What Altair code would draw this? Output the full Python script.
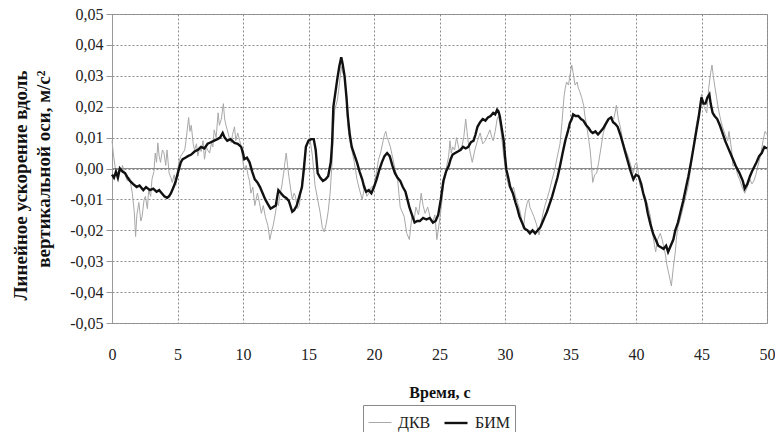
import altair as alt
import pandas as pd

# ---- data ----
series_names = ["ДКВ", "БИМ"]

t_dkv = [0.0, 0.1, 0.25, 0.4, 0.55, 0.7, 0.8, 1.0, 1.17, 1.35, 1.55, 1.7, 1.8, 1.9, 2.05, 2.2, 2.3, 2.45,
         2.55, 2.7, 2.8, 2.95, 3.05, 3.2, 3.3, 3.4, 3.5, 3.6, 3.7, 3.85, 3.97, 4.1, 4.2, 4.36, 4.5, 4.6,
         4.75, 4.87, 5.0, 5.1, 5.25, 5.4, 5.55, 5.65, 5.85, 5.95, 6.05, 6.2, 6.3, 6.45, 6.55, 6.7, 6.8,
         6.95, 7.06, 7.2, 7.3, 7.45, 7.6, 7.7, 7.8, 7.95, 8.1, 8.2, 8.35, 8.5, 8.6, 8.7, 8.8, 8.95, 9.1,
         9.2, 9.35, 9.45, 9.6, 9.75, 9.86, 10.0, 10.1, 10.25, 10.4, 10.5, 10.6, 10.75, 10.9, 11.0, 11.1,
         11.25, 11.4, 11.55, 11.7, 11.9, 12.05, 12.2, 12.3, 12.45, 12.6, 12.7, 12.8, 12.95, 13.1, 13.2,
         13.3, 13.4, 13.5, 13.65, 13.76, 13.9, 14.0, 14.15, 14.3, 14.5, 14.65, 14.8, 14.9, 15.0, 15.1,
         15.3, 15.5, 15.7, 15.9, 16.05, 16.2, 16.35, 16.5, 16.65, 16.8, 16.9, 17.0, 17.2, 17.35, 17.5,
         17.6, 17.75, 17.9, 18.0, 18.15, 18.3, 18.5, 18.7, 18.9, 19.1, 19.3, 19.45, 19.6, 19.8, 20.0,
         20.2, 20.35, 20.5, 20.7, 20.8, 20.9, 21.0, 21.1, 21.25, 21.4, 21.6, 21.8, 21.9, 22.0, 22.15,
         22.3, 22.5, 22.7, 22.8, 22.9, 23.05, 23.2, 23.4, 23.6, 23.75, 23.9, 24.1, 24.3, 24.5, 24.65,
         24.8, 24.9, 25.0, 25.15, 25.3, 25.45, 25.55, 25.7, 25.8, 25.9, 26.0, 26.15, 26.3, 26.5, 26.7,
         26.85, 27.0, 27.1, 27.2, 27.35, 27.5, 27.7, 27.9, 28.1, 28.3, 28.5, 28.7, 28.85, 29.0, 29.1,
         29.25, 29.4, 29.5, 29.6, 29.75, 29.9, 30.1, 30.3, 30.5, 30.65, 30.8, 30.95, 31.1, 31.25, 31.4,
         31.55, 31.7, 31.8, 31.9, 32.05, 32.2, 32.4, 32.6, 32.75, 32.9, 33.05, 33.2, 33.4, 33.6, 33.8,
         34.0, 34.2, 34.35, 34.5, 34.6, 34.7, 34.85, 34.95, 35.1, 35.2, 35.35, 35.5, 35.6, 35.7, 35.85,
         36.0, 36.1, 36.25, 36.4, 36.5, 36.6, 36.7, 36.85, 37.0, 37.15, 37.3, 37.5, 37.7, 37.9, 38.1,
         38.3, 38.4, 38.5, 38.65, 38.8, 39.0, 39.2, 39.4, 39.6, 39.8, 39.9, 40.05, 40.2, 40.3, 40.5,
         40.7, 40.9, 41.1, 41.3, 41.5, 41.65, 41.85, 42.0, 42.1, 42.25, 42.35, 42.5, 42.7, 42.85, 43.0,
         43.1, 43.2, 43.4, 43.6, 43.8, 44.0, 44.2, 44.4, 44.6, 44.8, 45.0, 45.2, 45.4, 45.55, 45.7,
         45.8, 45.9, 46.0, 46.15, 46.3, 46.45, 46.6, 46.8, 47.0, 47.1, 47.3, 47.4, 47.6, 47.75, 47.9,
         48.1, 48.3, 48.5, 48.7, 48.85, 49.0, 49.15, 49.3, 49.5, 49.7, 49.85, 50.0]
v_dkv = [0.009, 0.005, 0.000, -0.002, 0.000, -0.001, 0.001, -0.002, -0.004, -0.003, -0.008, -0.014, -0.022,
         -0.015, -0.011, -0.017, -0.0155, -0.010, -0.009, -0.013, -0.007, -0.009, -0.0035, -0.001, 0.005,
         0.002, 0.0083, 0.004, 0.002, 0.006, 0.005, 0.001, 0.006, -0.0015, -0.003, -0.0045, -0.002,
         -0.0055, -0.001, 0.002, 0.004, 0.005, 0.006, 0.009, 0.0165, 0.012, 0.014, 0.008, 0.006, 0.008,
         0.004, 0.007, 0.0055, 0.009, 0.003, 0.007, 0.006, 0.005, 0.0083, 0.007, 0.0125, 0.010, 0.018,
         0.014, 0.016, 0.021, 0.016, 0.014, 0.0125, 0.010, 0.0083, 0.011, 0.0135, 0.009, 0.0115, 0.009,
         0.007, 0.002, -0.0003, 0.001, -0.0025, -0.004, -0.008, -0.006, -0.012, -0.010, -0.008, -0.011,
         -0.0145, -0.012, -0.0155, -0.0185, -0.023, -0.020, -0.0185, -0.015, -0.011, -0.012, -0.009,
         -0.006, -0.0015, 0.002, 0.005, 0.001, -0.0025, -0.007, -0.010, -0.008, -0.009, -0.013, -0.012,
         -0.0045, 0.001, 0.006, 0.008, 0.009, 0.010, 0.004, -0.0055, -0.010, -0.0145, -0.019, -0.0205,
         -0.018, -0.014, -0.008, 0.002, 0.012, 0.019, 0.022, 0.027, 0.033, 0.031, 0.030, 0.022, 0.0135,
         0.009, 0.006, 0.002, -0.0035, -0.007, -0.010, -0.0055, -0.009, -0.008, -0.006, -0.0055, -0.001,
         0.003, 0.005, 0.009, 0.011, 0.012, 0.010, 0.009, 0.007, 0.004, 0.000, -0.0035, -0.008, -0.0125,
         -0.014, -0.0155, -0.021, -0.023, -0.019, -0.0155, -0.017, -0.0125, -0.015, -0.008, -0.012,
         -0.0145, -0.0125, -0.016, -0.017, -0.015, -0.023, -0.020, -0.017, -0.012, -0.0055, -0.002,
         0.0008, 0.004, 0.009, 0.005, 0.007, 0.006, 0.010, 0.006, 0.007, 0.010, 0.016, 0.012, 0.0083,
         0.005, 0.002, 0.006, 0.009, 0.0115, 0.008, 0.009, 0.011, 0.0125, 0.010, 0.009, 0.012, 0.016,
         0.017, 0.015, 0.010, 0.004, -0.0025, -0.006, -0.007, -0.006, -0.009, -0.011, -0.013, -0.016,
         -0.0195, -0.014, -0.011, -0.010, -0.0125, -0.014, -0.0155, -0.018, -0.0215, -0.018, -0.0145,
         -0.012, -0.010, -0.007, -0.0035, -0.0003, 0.004, 0.008, 0.015, 0.023, 0.026, 0.028, 0.027, 0.030,
         0.0335, 0.031, 0.027, 0.028, 0.026, 0.025, 0.023, 0.0205, 0.017, 0.0135, 0.009, 0.006, 0.001,
         -0.0045, -0.002, -0.0015, 0.002, 0.006, 0.0115, 0.014, 0.016, 0.017, 0.016, 0.018, 0.0205, 0.016,
         0.0135, 0.009, 0.006, 0.004, 0.001, -0.0015, 0.001, 0.002, -0.002, -0.0055, -0.007, -0.009,
         -0.012, -0.0155, -0.022, -0.027, -0.023, -0.021, -0.023, -0.025, -0.028, -0.031, -0.034, -0.038,
         -0.032, -0.027, -0.022, -0.019, -0.016, -0.0125, -0.009, -0.0055, 0.001, 0.008, 0.014, 0.0185,
         0.024, 0.020, 0.018, 0.026, 0.031, 0.0335, 0.030, 0.027, 0.023, 0.019, 0.016, 0.0135, 0.011,
         0.009, 0.012, 0.006, 0.0008, 0.001, -0.002, -0.0035, -0.006, -0.008, -0.006, -0.0035, -0.005,
         -0.004, -0.002, 0.0008, 0.004, 0.009, 0.012, 0.011]

t_bim = [0.0, 0.15, 0.3, 0.45, 0.6, 0.8, 1.0, 1.2, 1.37, 1.6, 1.88, 2.1, 2.39, 2.6, 2.9, 3.15, 3.4, 3.6,
         3.8, 4.0, 4.2, 4.35, 4.5, 4.7, 4.87, 5.1, 5.25, 5.4, 5.6, 5.8, 6.05, 6.3, 6.55, 6.8, 7.05, 7.3,
         7.55, 7.8, 8.05, 8.25, 8.45, 8.6, 8.8, 9.05, 9.35, 9.6, 9.86, 10.0, 10.1, 10.3, 10.5, 10.7,
         10.9, 11.1, 11.3, 11.5, 11.7, 11.9, 12.1, 12.3, 12.5, 12.7, 12.9, 13.1, 13.3, 13.5, 13.76, 13.9,
         14.1, 14.3, 14.5, 14.65, 14.8, 15.0, 15.2, 15.4, 15.55, 15.7, 15.9, 16.1, 16.3, 16.5, 16.7,
         16.8, 16.9, 17.2, 17.35, 17.5, 17.6, 17.75, 17.9, 18.0, 18.15, 18.3, 18.5, 18.7, 18.9, 19.1,
         19.25, 19.4, 19.6, 19.8, 20.0, 20.2, 20.4, 20.6, 20.8, 21.0, 21.2, 21.4, 21.6, 21.8, 22.0,
         22.2, 22.4, 22.55, 22.7, 22.9, 23.1, 23.3, 23.5, 23.75, 24.0, 24.25, 24.5, 24.7, 24.9, 25.1,
         25.3, 25.5, 25.7, 25.85, 26.0, 26.2, 26.4, 26.6, 26.8, 27.0, 27.2, 27.4, 27.6, 27.75, 27.9,
         28.1, 28.3, 28.5, 28.7, 28.9, 29.1, 29.25, 29.4, 29.5, 29.6, 29.75, 29.9, 30.0, 30.1, 30.25,
         30.4, 30.6, 30.8, 30.95, 31.1, 31.3, 31.5, 31.7, 31.9, 32.1, 32.3, 32.5, 32.7, 32.9, 33.05,
         33.2, 33.4, 33.6, 33.8, 34.0, 34.2, 34.4, 34.6, 34.8, 34.95, 35.1, 35.2, 35.4, 35.6, 35.8,
         35.98, 36.2, 36.4, 36.55, 36.7, 36.9, 37.1, 37.3, 37.5, 37.7, 37.9, 38.1, 38.25, 38.4, 38.6,
         38.8, 39.0, 39.2, 39.4, 39.6, 39.8, 40.0, 40.2, 40.4, 40.55, 40.75, 40.9, 41.1, 41.3, 41.5,
         41.7, 41.9, 42.1, 42.3, 42.45, 42.65, 42.85, 43.0, 43.2, 43.4, 43.6, 43.8, 44.0, 44.2, 44.4,
         44.6, 44.8, 45.0, 45.15, 45.3, 45.45, 45.6, 45.7, 45.85, 46.0, 46.2, 46.4, 46.6, 46.8, 47.0,
         47.2, 47.4, 47.6, 47.75, 47.9, 48.0, 48.15, 48.3, 48.5, 48.7, 48.85, 49.0, 49.2, 49.4, 49.6,
         49.8, 50.0]
v_bim = [-0.002, -0.003, -0.001, -0.003, 0.000, -0.001, -0.0015, -0.003, -0.004, -0.005, -0.006, -0.0055,
         -0.007, -0.006, -0.007, -0.0065, -0.0075, -0.007, -0.008, -0.009, -0.0095, -0.009, -0.008,
         -0.006, -0.004, -0.0003, 0.002, 0.003, 0.0035, 0.004, 0.0045, 0.0055, 0.006, 0.007, 0.0065,
         0.008, 0.0085, 0.009, 0.0095, 0.010, 0.0115, 0.010, 0.009, 0.0095, 0.0083, 0.008, 0.007, 0.005,
         0.003, 0.0035, 0.002, -0.001, -0.0035, -0.0045, -0.006, -0.008, -0.010, -0.0115, -0.013,
         -0.0125, -0.012, -0.007, -0.008, -0.009, -0.0095, -0.0105, -0.014, -0.0135, -0.012, -0.009,
         -0.006, 0.000, 0.007, 0.009, 0.0095, 0.0095, 0.006, -0.0015, -0.003, -0.004, -0.0035, -0.0025,
         0.002, 0.008, 0.020, 0.029, 0.033, 0.036, 0.034, 0.030, 0.023, 0.017, 0.011, 0.007, 0.0045,
         0.002, -0.001, -0.0035, -0.006, -0.0075, -0.007, -0.008, -0.006, -0.0035, -0.0005, 0.002, 0.004,
         0.005, 0.004, 0.001, -0.0015, -0.003, -0.004, -0.006, -0.0075, -0.010, -0.0125, -0.015, -0.0175,
         -0.017, -0.017, -0.016, -0.0165, -0.016, -0.0175, -0.017, -0.015, -0.010, -0.004, -0.001,
         0.0008, 0.003, 0.0045, 0.005, 0.0055, 0.006, 0.007, 0.0065, 0.007, 0.0085, 0.009, 0.011, 0.0135,
         0.015, 0.016, 0.0155, 0.0165, 0.017, 0.018, 0.0175, 0.019, 0.0185, 0.017, 0.013, 0.009, 0.004,
         -0.0003, -0.003, -0.006, -0.008, -0.011, -0.013, -0.0155, -0.0175, -0.0195, -0.020, -0.021,
         -0.020, -0.021, -0.020, -0.019, -0.017, -0.0155, -0.014, -0.0115, -0.009, -0.006, -0.003, 0.0008,
         0.005, 0.009, 0.012, 0.0147, 0.016, 0.0175, 0.017, 0.017, 0.016, 0.0155, 0.014, 0.013, 0.012,
         0.0115, 0.012, 0.011, 0.012, 0.013, 0.0145, 0.016, 0.0165, 0.015, 0.0145, 0.0135, 0.011, 0.008,
         0.005, 0.002, -0.001, -0.0035, -0.002, -0.0025, -0.005, -0.008, -0.011, -0.0145, -0.018, -0.021,
         -0.023, -0.025, -0.0255, -0.026, -0.025, -0.027, -0.025, -0.023, -0.020, -0.0175, -0.014,
         -0.0105, -0.0065, -0.0025, 0.002, 0.007, 0.012, 0.017, 0.023, 0.021, 0.021, 0.023, 0.024, 0.021,
         0.018, 0.017, 0.016, 0.014, 0.0115, 0.009, 0.007, 0.005, 0.003, 0.001, -0.0003, -0.0015, -0.0025,
         -0.004, -0.0065, -0.005, -0.0025, -0.001, 0.0003, 0.002, 0.004, 0.005, 0.007, 0.0065]

x_ticks = [0, 5, 10, 15, 20, 25, 30, 35, 40, 45, 50]
y_ticks = [-0.05, -0.04, -0.03, -0.02, -0.01, 0.0, 0.01, 0.02, 0.03, 0.04, 0.05]
zero_line = [0.0]

x_title = "Время, с"
y_title = ["Линейное ускорение вдоль", "вертикальной оси, м/с²"]

FONT = "Liberation Serif"
GRID = "#8a8a8a"

df_dkv = pd.DataFrame({"t": t_dkv, "v": v_dkv, "s": series_names[0]})
df_bim = pd.DataFrame({"t": t_bim, "v": v_bim, "s": series_names[1]})
df_zero = pd.DataFrame({"v": zero_line})

x_enc = alt.X(
    "t:Q",
    scale=alt.Scale(domain=[0, 50], nice=False, zero=False),
    axis=alt.Axis(
        values=x_ticks, title=x_title, grid=True, gridDash=[2, 2], gridColor=GRID,
        domain=False, ticks=False, labelPadding=23, labelFont=FONT, labelFontSize=16,
        labelFlush=False, labelOverlap=False,
        titleFont=FONT, titleFontSize=16, titleFontWeight="bold",
        titleY=74, titleBaseline="alphabetic",
    ),
)
y_enc = alt.Y(
    "v:Q",
    scale=alt.Scale(domain=[-0.05, 0.05], nice=False),
    axis=alt.Axis(
        values=y_ticks, title=y_title, grid=True, gridDash=[2, 2], gridColor=GRID,
        domain=True, domainColor="#999", ticks=True, tickSize=6, tickColor="#999",
        labelPadding=3, labelFont=FONT, labelFontSize=16,
        labelFlush=False, labelOverlap=False,
        labelExpr="replace(replace(format(datum.value, '.2f'), '.', ','), '\u2212', '-')",
        titleFont=FONT, titleFontSize=19, titleFontWeight="bold",
        titleAngle=270, titleAlign="right", titleBaseline="alphabetic", titleLineHeight=23,
        titleX=-86, titleY=56,
    ),
)

legend = alt.Legend(
    title=None, orient="none", legendX=251, legendY=391, direction="horizontal",
    symbolType="stroke", symbolSize=529, labelFont=FONT, labelFontSize=16,
    strokeColor="#8a8a8a", padding=5, columnPadding=8, labelOffset=6, fillColor="white",
)
color_enc = alt.Color("s:N", scale=alt.Scale(domain=series_names, range=["#a8a8a8", "#111111"]), legend=legend)
width_enc = alt.StrokeWidth("s:N", scale=alt.Scale(domain=series_names, range=[1.0, 2.4]), legend=legend)

dkv = alt.Chart(df_dkv).mark_line().encode(x=x_enc, y=y_enc, color=color_enc, strokeWidth=width_enc)
bim = alt.Chart(df_bim).mark_line().encode(x=x_enc, y=y_enc, color=color_enc, strokeWidth=width_enc)
zero = alt.Chart(df_zero).mark_rule(color="#8a8a8a", strokeWidth=1).encode(y=y_enc)

chart = (
    alt.layer(dkv, zero, bim)
    .properties(
        width=655, height=309,
        autosize=alt.AutoSizeParams(type="none"),
        padding={"left": 112, "top": 14, "right": 8, "bottom": 109},
        background="white",
    )
    .configure(font=FONT)
    .configure_axis(labelFont=FONT, titleFont=FONT, labelColor="#222", titleColor="#111")
    .configure_legend(labelFont=FONT, titleFont=FONT, labelColor="#222")
    .configure_view(stroke="#999", strokeWidth=1)
)

chart.save("out.html", embed_options={"renderer": "svg", "actions": False})
